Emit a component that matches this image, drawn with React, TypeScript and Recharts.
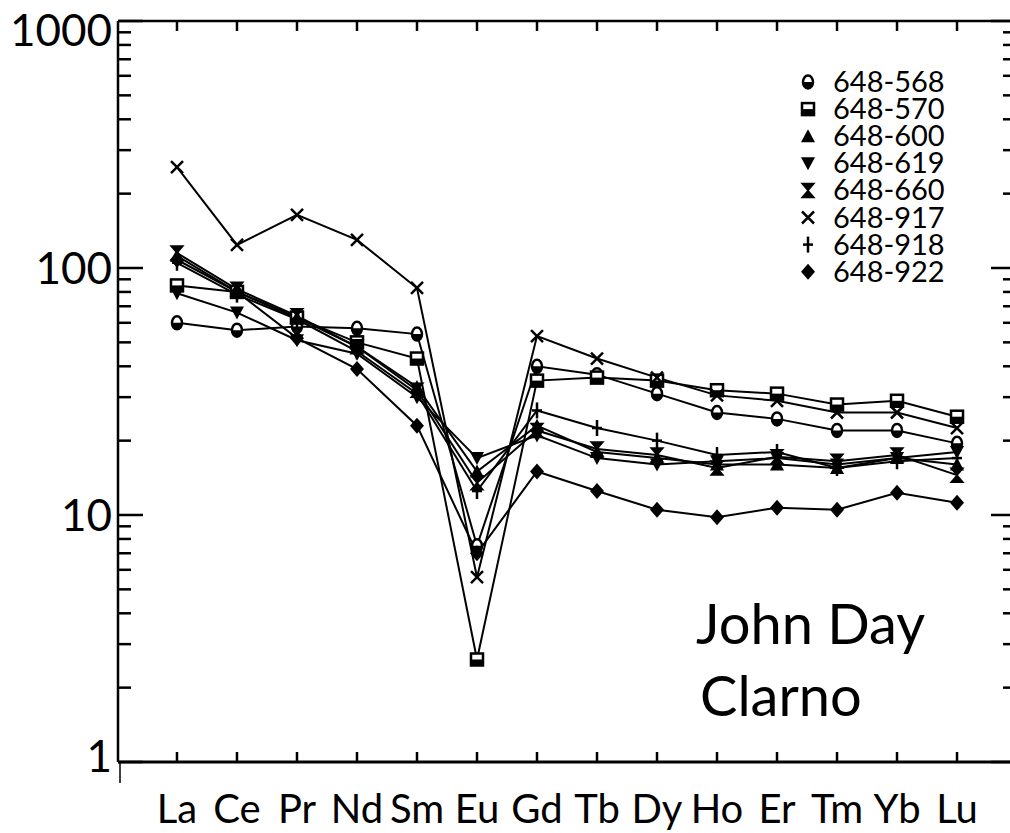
import React from 'react';
import { LineChart, Line, XAxis, YAxis } from 'recharts';

// ---- data -------------------------------------------------------------
const elements = ['La', 'Ce', 'Pr', 'Nd', 'Sm', 'Eu', 'Gd', 'Tb', 'Dy', 'Ho', 'Er', 'Tm', 'Yb', 'Lu'];
const seriesNames = ['648-568', '648-570', '648-600', '648-619', '648-660', '648-917', '648-918', '648-922'];
const seriesShapes = ['circle', 'square', 'triUp', 'triDown', 'hourglass', 'cross', 'plus', 'diamond'];

const s568 = [60, 56, 58, 57, 54, 7.5, 40, 37, 31, 26, 24.5, 22, 22, 19.5];
const s570 = [85, 80, 63, 50, 43, 2.6, 35, 36, 35, 32, 31, 28, 29, 25];
const s600 = [112, 80, 63, 48, 33, 15, 23, 18, 17, 16, 16, 15.5, 17, 16];
const s619 = [79, 66, 51, 45, 30, 17, 21, 17, 16, 16.5, 17, 16, 17, 18];
const s660 = [115, 82, 64, 48, 32, 13.5, 22, 18.5, 17.5, 15.5, 17.2, 16.5, 17.5, 14.5];
const s917 = [256, 124, 164, 130, 83, 5.6, 53, 43, 36, 30.5, 29, 26, 26, 22.5];
const s918 = [105, 78, 62, 46, 31, 12.5, 26.5, 22.5, 20, 17.5, 18, 15.5, 16.5, 17];
const s922 = [108, 80, 52, 39, 23, 7.0, 15, 12.5, 10.5, 9.8, 10.7, 10.5, 12.3, 11.2];

const seriesValues = [s568, s570, s600, s619, s660, s917, s918, s922];

const xTicks = [0, 1, 2, 3, 4, 5, 6, 7, 8, 9, 10, 11, 12, 13];
const yTicks = [1, 2, 3, 4, 5, 6, 7, 8, 9, 10, 20, 30, 40, 50, 60, 70, 80, 90, 100,
  200, 300, 400, 500, 600, 700, 800, 900, 1000];
const yLabels = [1, 10, 100, 1000];
const annotation = ['John Day', 'Clarno'];

// ---- table ---------------------------------------------------------------
const keys = seriesNames.map((_, i) => `s${i}`);
const rows = elements.map((el, i) => {
  const r: any = { x: i, el };
  seriesValues.forEach((arr, j) => { r[keys[j]] = arr[i]; });
  return r;
});

const FONT = 'Lato, "DejaVu Sans", sans-serif';

function Marker({ shape, cx, cy }: { shape: string; cx: number; cy: number }) {
  const k = '#000';
  switch (shape) {
    case 'circle':
      return (
        <g>
          <ellipse cx={cx} cy={cy} rx={5} ry={6.5} fill="#fff" stroke={k} strokeWidth={2.5} />
          <path d={`M ${cx - 5} ${cy} A 5 6.5 0 0 0 ${cx + 5} ${cy} Z`} fill={k} />
        </g>
      );
    case 'square':
      return (
        <g>
          <rect x={cx - 6} y={cy - 6} width={12} height={12} fill="#fff" stroke={k} strokeWidth={2.5} />
          <rect x={cx - 6} y={cy} width={12} height={6} fill={k} />
        </g>
      );
    case 'triUp':
      return <polygon points={`${cx},${cy - 7} ${cx - 7},${cy + 6} ${cx + 7},${cy + 6}`} fill={k} />;
    case 'triDown':
      return <polygon points={`${cx},${cy + 7} ${cx - 7},${cy - 6} ${cx + 7},${cy - 6}`} fill={k} />;
    case 'hourglass':
      return (
        <path d={`M ${cx - 6} ${cy - 7} L ${cx + 6} ${cy - 7} L ${cx - 6} ${cy + 7} L ${cx + 6} ${cy + 7} Z`}
          fill={k} stroke={k} strokeWidth={1.5} />
      );
    case 'cross':
      return (
        <g stroke={k} strokeWidth={2.5}>
          <line x1={cx - 6} y1={cy - 6} x2={cx + 6} y2={cy + 6} />
          <line x1={cx - 6} y1={cy + 6} x2={cx + 6} y2={cy - 6} />
        </g>
      );
    case 'plus':
      return (
        <g stroke={k} strokeWidth={2.5}>
          <line x1={cx} y1={cy - 8} x2={cx} y2={cy + 8} />
          <line x1={cx - 5} y1={cy} x2={cx + 5} y2={cy} />
        </g>
      );
    default:
      return <polygon points={`${cx},${cy - 8} ${cx + 7},${cy} ${cx},${cy + 8} ${cx - 7},${cy}`} fill={k} />;
  }
}

const LeftTick = (props: any) => {
  const { x, y, payload } = props;
  const v = payload.value;
  const major = yLabels.includes(v);
  const shift = v === 1000 ? 9 : v === 1 ? -6 : 0;
  return (
    <g>
      <line x1={x} y1={y} x2={x + (major ? 25 : 13)} y2={y} stroke="#000" strokeWidth={2.5} />
      {v === 1 && <line x1={x + 2} y1={y} x2={x + 2} y2={y + 21} stroke="#000" strokeWidth={1.5} />}
      {major && (
        <text x={x - 6} y={y + shift} dy="0.36em" textAnchor="end" fontSize={44} fontFamily={FONT} fill="#000">
          {v}
        </text>
      )}
    </g>
  );
};

const RightTick = (props: any) => {
  const { x, y, payload } = props;
  const major = yLabels.includes(payload.value);
  return <line x1={x} y1={y} x2={x - (major ? 25 : 13)} y2={y} stroke="#000" strokeWidth={2.5} />;
};

const BottomTick = (props: any) => {
  const { x, y, payload } = props;
  return (
    <g>
      <line x1={x} y1={y} x2={x} y2={y - 10} stroke="#000" strokeWidth={2.5} />
      <text x={x} y={y + 61} textAnchor="middle" fontSize={40} fontFamily={FONT} fill="#000">
        {elements[payload.value]}
      </text>
    </g>
  );
};

const TopTick = (props: any) => {
  const { x, y } = props;
  return <line x1={x} y1={y} x2={x} y2={y + 10} stroke="#000" strokeWidth={2.5} />;
};

const X_DOMAIN: [number, number] = [-0.983, 13.983];

export default function App() {
  return (
    <div style={{ position: 'absolute', left: 0, top: 0, width: 1010, height: 833, overflow: 'hidden', background: '#fff' }}>
      <LineChart width={1030} height={833} data={rows} margin={{ top: 20, right: 13, bottom: 0, left: 8 }}>
        <XAxis xAxisId="b" type="number" dataKey="x" domain={X_DOMAIN} allowDataOverflow ticks={xTicks}
          interval={0} height={71} tickSize={0} tickMargin={0} tickLine={false}
          axisLine={{ stroke: '#000', strokeWidth: 3 }} tick={<BottomTick />} />
        <XAxis xAxisId="t" orientation="top" type="number" dataKey="x" domain={X_DOMAIN} allowDataOverflow
          ticks={xTicks} interval={0} height={1} tickSize={0} tickMargin={0} tickLine={false}
          axisLine={{ stroke: '#000', strokeWidth: 2.5 }} tick={<TopTick />} />
        <YAxis yAxisId="l" type="number" scale="log" domain={[1, 1000]} allowDataOverflow ticks={yTicks}
          interval={0} width={110} tickSize={0} tickMargin={0} tickLine={false}
          axisLine={{ stroke: '#000', strokeWidth: 2.5 }} tick={<LeftTick />} />
        <YAxis yAxisId="r" orientation="right" type="number" scale="log" domain={[1, 1000]} allowDataOverflow
          ticks={yTicks} interval={0} width={1} tickSize={0} tickMargin={0} tickLine={false}
          axisLine={{ stroke: '#000', strokeWidth: 2.5 }} tick={<RightTick />} />
        {keys.map((k, j) => (
          <Line key={k} xAxisId="b" yAxisId="l" dataKey={k} name={seriesNames[j]} stroke="#000" strokeWidth={2}
            isAnimationActive={false} type="linear"
            dot={(p: any) => (
              <Marker key={`${k}-${p.index}`} shape={seriesShapes[j]} cx={p.cx} cy={p.cy} />
            )}
            activeDot={false} />
        ))}
      </LineChart>
      <svg width={1010} height={833} style={{ position: 'absolute', left: 0, top: 0, pointerEvents: 'none' }}>
        {seriesNames.map((n, i) => {
          const cy = 82 + i * 27.1;
          return (
            <g key={n}>
              <Marker shape={seriesShapes[i]} cx={808} cy={cy} />
              <text x={833} y={cy + 10} fontSize={29} fontFamily={FONT} fill="#000">{n}</text>
            </g>
          );
        })}
        <text x={696} y={644} fontSize={56} fontFamily={FONT} fill="#000">{annotation[0]}</text>
        <text x={700} y={716} fontSize={56} fontFamily={FONT} fill="#000">{annotation[1]}</text>
      </svg>
    </div>
  );
}
